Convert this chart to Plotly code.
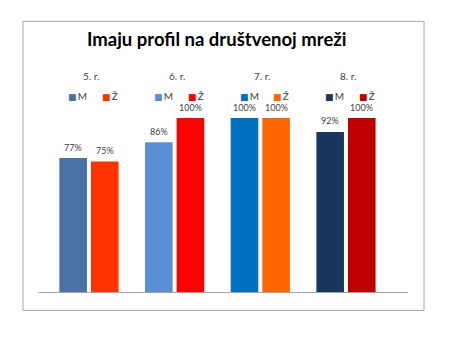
import plotly.graph_objects as go

# Share of pupils with a social-network profile, by grade (M = boys, Ž = girls)
categories = ["5. r.", "6. r.", "7. r.", "8. r."]
m_values = [77, 86, 100, 92]
z_values = [75, 100, 100, 100]
m_colors = ["#4A72A6", "#5B8ED6", "#0070C0", "#17375E"]
z_colors = ["#FF3300", "#FF0000", "#FF6600", "#C00000"]
series_names = ["M", "Ž"]

FONT = "Lato"
TEXT_COLOR = "#404040"
BAR_W = 0.322
GAP = 0.047
offsets = [-(BAR_W + GAP / 2), GAP / 2]

idx = list(range(len(categories)))

fig = go.Figure()
for name, vals, cols, off in zip(series_names, [m_values, z_values],
                                 [m_colors, z_colors], offsets):
    fig.add_trace(go.Bar(
        x=idx, y=vals, name=name, width=BAR_W, offset=off,
        marker=dict(color=cols, line=dict(width=0)),
        showlegend=False, hoverinfo="skip",
    ))

annotations = []
# value labels above each bar
for vals, off in zip([m_values, z_values], offsets):
    for i, v in zip(idx, vals):
        annotations.append(dict(
            x=i + off + BAR_W / 2, y=v, xref="x", yref="y",
            text=f"{v}%", showarrow=False, yanchor="middle", yshift=11,
            font=dict(family=FONT, size=9, color=TEXT_COLOR),
        ))

# per-grade heading and colour key above each group
for i, cat in enumerate(categories):
    annotations.append(dict(
        x=i, y=1.287, xref="x", yref="paper", text=cat, showarrow=False,
        xshift=2, font=dict(family=FONT, size=10, color=TEXT_COLOR),
    ))
    for name, cols, shift in zip(series_names, [m_colors, z_colors], [-11, 21]):
        annotations.append(dict(
            x=i, y=1.173, xref="x", yref="paper", showarrow=False, xshift=shift,
            text=(f'<span style="color:{cols[i]};font-size:9px;'
                  f'font-family:DejaVu Sans">■</span>\u2009{name}'),
            font=dict(family=FONT, size=10, color=TEXT_COLOR),
        ))

fig.update_layout(
    width=450, height=338,
    margin=dict(l=38, r=42, t=118.3, b=46.3),
    paper_bgcolor="white", plot_bgcolor="white",
    barmode="overlay",
    title=dict(
        text="<b>Imaju profil na društvenoj mreži</b>",
        xref="paper", x=(216.7 - 38) / 370, xanchor="center",
        yref="container", y=1 - 40 / 338, yanchor="middle",
        font=dict(family=FONT, size=18.5, color="black"),
    ),
    xaxis=dict(
        range=[-0.595, 3.724], showgrid=False, zeroline=False,
        showticklabels=False, ticks="",
        showline=True, linecolor="#A6A6A6", linewidth=1,
    ),
    yaxis=dict(
        range=[0, 100], showgrid=False, zeroline=False,
        showticklabels=False, ticks="", showline=False,
    ),
    annotations=annotations,
    shapes=[dict(
        type="rect", xref="paper", yref="paper",
        x0=(23 - 38) / 370, x1=(424 - 38) / 370,
        y0=(291.7 - 310) / 173.4, y1=(291.7 - 22) / 173.4,
        line=dict(color="#A6A6A6", width=1), fillcolor="rgba(0,0,0,0)",
        layer="below",
    )],
)

fig.write_html("out.html")
